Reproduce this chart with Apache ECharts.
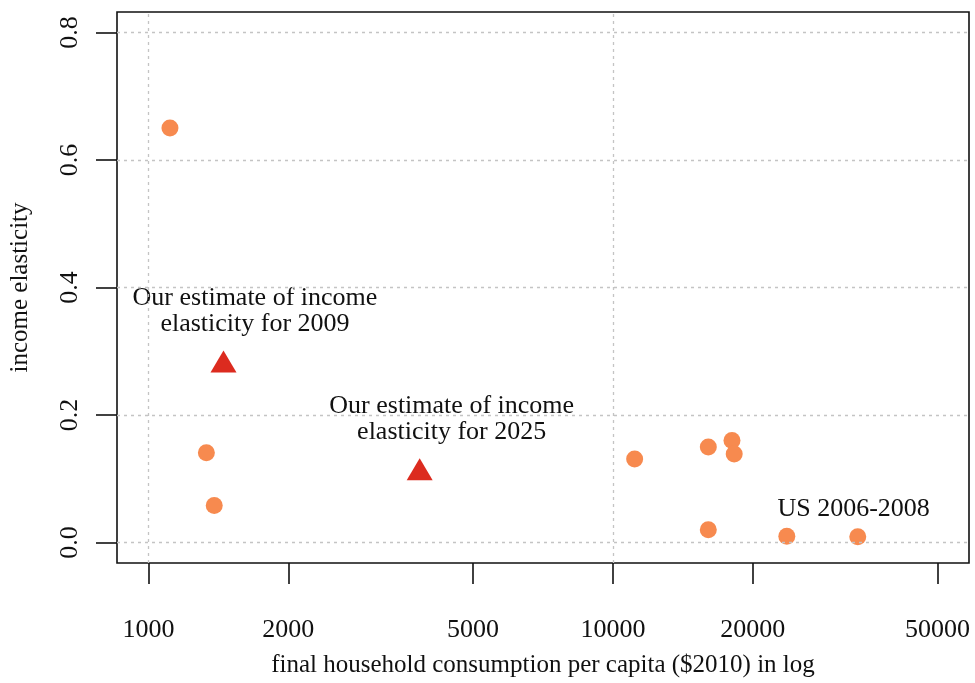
<!DOCTYPE html>
<html>
<head>
<meta charset="utf-8">
<script src="https://cdn.jsdelivr.net/npm/echarts@6/dist/echarts.min.js"></script>
<style>html,body{margin:0;padding:0;background:#fff}#c{width:975px;height:683px}</style>
</head>
<body>
<div id="c"></div>
<script>
// ---- data ----
const xTickValues = [1000, 2000, 5000, 10000, 20000, 50000];
const yTickValues = [0, 0.2, 0.4, 0.6, 0.8];
const xGridValues = [1000, 10000];
const countryX = [1112, 1332, 1385, 11140, 16050, 18050, 18250, 16050, 23690, 33680];
const countryY = [0.650, 0.141, 0.058, 0.131, 0.150, 0.160, 0.139, 0.020, 0.010, 0.009];
const estimateX = [1450, 3836];
const estimateY = [0.284, 0.115];
const noteText = ['Our estimate of income\nelasticity for 2009', 'Our estimate of income\nelasticity for 2025', 'US 2006-2008'];
const noteX = [1695, 4496, 33000];
const noteY = [0.363, 0.193, 0.052];
const xRange = [1000, 50000];
const yRange = [0, 0.8];

// ---- helpers ----
const lg = Math.log10;
const pad = 0.04;
const xl0 = lg(xRange[0]), xl1 = lg(xRange[1]);
const xMin = xl0 - (xl1 - xl0) * pad, xMax = xl1 + (xl1 - xl0) * pad;
const yMin = yRange[0] - (yRange[1] - yRange[0]) * pad, yMax = yRange[1] + (yRange[1] - yRange[0]) * pad;
const FONT = '"Liberation Serif", "DejaVu Serif", serif';
const ink = '#111111';
const gridStyle = { color: '#c4c4c4', width: 1.3, type: [3, 4] };

const chart = echarts.init(document.getElementById('c'), null, { renderer: 'canvas' });
chart.setOption({
  animation: false,
  backgroundColor: '#fff',
  grid: { left: 115, right: 6, top: 12, bottom: 119, show: true, borderColor: ink, borderWidth: 1.6, backgroundColor: 'transparent' },
  xAxis: {
    type: 'value', min: xMin, max: xMax,
    name: 'final household consumption per capita ($2010) in log',
    nameLocation: 'middle', nameGap: 90,
    nameTextStyle: { fontFamily: FONT, fontSize: 25, color: ink },
    axisLine: { show: false, onZero: false },
    axisTick: { show: true, length: 21, inside: false, lineStyle: { color: ink, width: 1.6 }, customValues: xTickValues.map(lg) },
    axisLabel: { show: true, margin: 54, fontFamily: FONT, fontSize: 26, color: ink, customValues: xTickValues.map(lg),
      formatter: v => String(Math.round(Math.pow(10, v))) },
    splitLine: { show: false }
  },
  yAxis: {
    type: 'value', min: yMin, max: yMax,
    name: 'income elasticity', nameLocation: 'middle', nameGap: 84, nameRotate: 90,
    nameTextStyle: { fontFamily: FONT, fontSize: 25, color: ink },
    axisLine: { show: false, onZero: false },
    axisTick: { show: true, length: 21, lineStyle: { color: ink, width: 1.6 }, customValues: yTickValues },
    axisLabel: { show: true, rotate: 90, margin: 34, fontFamily: FONT, fontSize: 26, color: ink, customValues: yTickValues,
      formatter: v => v.toFixed(1) },
    splitLine: { show: false }
  },
  series: [
    {
      type: 'scatter', name: 'grid', symbolSize: 0, data: [], silent: true,
      markLine: {
        silent: true, symbol: ['none', 'none'], label: { show: false }, animation: false,
        lineStyle: gridStyle,
        data: yTickValues.map(v => ({ yAxis: v })).concat(xGridValues.map(v => ({ xAxis: lg(v) })))
      }
    },
    {
      type: 'scatter', name: 'countries', symbol: 'circle', symbolSize: 17,
      itemStyle: { color: '#F78A4F', opacity: 1 },
      data: countryX.map((x, i) => [lg(x), countryY[i]])
    },
    {
      type: 'scatter', name: 'estimates', symbol: 'triangle', symbolSize: [26, 22],
      itemStyle: { color: '#DC2B1F', opacity: 1 },
      data: estimateX.map((x, i) => [lg(x), estimateY[i]])
    },
    {
      type: 'scatter', name: 'notes', symbolSize: 0, silent: true,
      itemStyle: { opacity: 1, color: 'transparent' },
      label: { show: true, position: 'inside', formatter: p => p.data[2], fontFamily: FONT, fontSize: 26, lineHeight: 26, color: ink, opacity: 1, align: 'center', verticalAlign: 'middle' },
      data: noteX.map((x, i) => [lg(x), noteY[i], noteText[i]])
    }
  ]
});
</script>
</body>
</html>
